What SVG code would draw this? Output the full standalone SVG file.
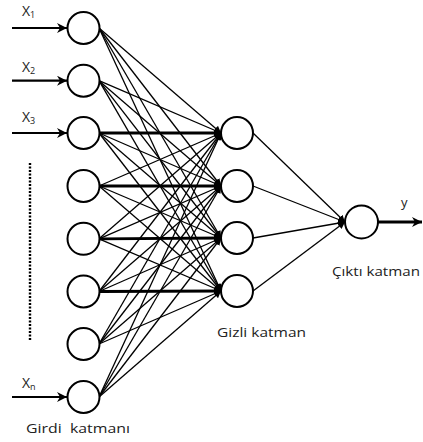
<svg xmlns="http://www.w3.org/2000/svg" width="423" height="442" viewBox="0 0 423 442">
<defs>
<marker id="ah" viewBox="0 0 10 10" refX="10" refY="5" markerWidth="7" markerHeight="7" markerUnits="userSpaceOnUse" orient="auto"><path d="M0,0 L10,5 L0,10 z" fill="#000"/></marker>
<marker id="big" viewBox="0 0 10 10" refX="10" refY="5" markerWidth="10" markerHeight="10" markerUnits="userSpaceOnUse" orient="auto"><path d="M0,0 L10,5 L0,10 L3,5 z" fill="#000"/></marker>
<style>
.n{fill:#fff;stroke:#000;stroke-width:2}
.c{stroke:#000;stroke-width:1.3;fill:none;marker-end:url(#ah)}
.h{stroke-width:2.8}
.in{stroke:#000;stroke-width:2.2;fill:none;marker-end:url(#big)}
.t{font-family:"Open Sans","Liberation Sans",sans-serif;font-size:13px;fill:#222}
.x{font-size:14px}
.s{font-size:9px}
</style>
</defs>
<rect width="423" height="442" fill="#fff"/>
<g id="connectors">
<path class="c" d="M99,28 L221,133"/><path class="c" d="M99,28 L221,186"/><path class="c" d="M99,28 L221,238"/><path class="c" d="M99,28 L221,291"/>
<path class="c" d="M99,80.7 L221,133"/><path class="c" d="M99,80.7 L221,186"/><path class="c" d="M99,80.7 L221,238"/><path class="c" d="M99,80.7 L221,291"/>
<path class="c h" d="M100,133 L221,133"/><path class="c" d="M99,133 L221,186"/><path class="c" d="M99,133 L221,238"/><path class="c" d="M99,133 L221,291"/>
<path class="c" d="M99,186 L221,133"/><path class="c h" d="M100,186 L221,186"/><path class="c" d="M99,186 L221,238"/><path class="c" d="M99,186 L221,291"/>
<path class="c" d="M99,238.8 L221,133"/><path class="c" d="M99,238.8 L221,186"/><path class="c h" d="M100,238.8 L221,238"/><path class="c" d="M99,238.8 L221,291"/>
<path class="c" d="M99,291.5 L221,133"/><path class="c" d="M99,291.5 L221,186"/><path class="c" d="M99,291.5 L221,238"/><path class="c h" d="M100,291.5 L221,291"/>
<path class="c" d="M99,344 L221,133"/><path class="c" d="M99,344 L221,186"/><path class="c" d="M99,344 L221,238"/><path class="c" d="M99,344 L221,291"/>
<path class="c" d="M99,397 L221,133"/><path class="c" d="M99,397 L221,186"/><path class="c" d="M99,397 L221,238"/><path class="c" d="M99,397 L221,291"/>
<path class="c" d="M253,133 L345,222"/><path class="c" d="M253,186 L345,222"/><path class="c" d="M253,238 L345,222"/><path class="c" d="M253,291 L345,222"/>
<path class="in" d="M12,28 L67,28"/><path class="in" d="M12,80.7 L67,80.7"/><path class="in" d="M12,133 L67,133"/><path class="in" d="M12,397 L67,397"/>
<path class="in" d="M378,222 L422,222" style="stroke-width:2.8"/>
<path d="M30,163 L30,340" stroke="#000" stroke-width="2.4" stroke-dasharray="2,1.5"/>
</g>
<g id="in1"><circle class="n" cx="83.5" cy="28" r="16"/></g>
<g id="in2"><circle class="n" cx="83.5" cy="80.7" r="16"/></g>
<g id="in3"><circle class="n" cx="83.5" cy="133" r="16"/></g>
<g id="in4"><circle class="n" cx="83.5" cy="186" r="16"/></g>
<g id="in5"><circle class="n" cx="83.5" cy="238.8" r="16"/></g>
<g id="in6"><circle class="n" cx="83.5" cy="291.5" r="16"/></g>
<g id="in7"><circle class="n" cx="83.5" cy="344" r="16"/></g>
<g id="in8"><circle class="n" cx="83.5" cy="397" r="16"/></g>
<g id="h1"><circle class="n" cx="237" cy="133" r="16"/></g>
<g id="h2"><circle class="n" cx="237" cy="186" r="16"/></g>
<g id="h3"><circle class="n" cx="237" cy="238" r="16"/></g>
<g id="h4"><circle class="n" cx="237" cy="291" r="16"/></g>
<g id="out"><circle class="n" cx="361.5" cy="222" r="16.5"/></g>
<g id="labels">
<text class="t x" x="22" y="16">X<tspan class="s" dy="2">1</tspan></text>
<text class="t x" x="22" y="72">X<tspan class="s" dy="2">2</tspan></text>
<text class="t x" x="22" y="122">X<tspan class="s" dy="2">3</tspan></text>
<text class="t x" x="22" y="388">X<tspan class="s" dy="2">n</tspan></text>
<text class="t" x="401" y="207">y</text>
<text class="t" x="26" y="433" textLength="104" lengthAdjust="spacingAndGlyphs" xml:space="preserve">Girdi  katmanı</text>
<text class="t" x="217" y="337" textLength="89" lengthAdjust="spacingAndGlyphs">Gizli katman</text>
<text class="t" x="332" y="276" textLength="88" lengthAdjust="spacingAndGlyphs">Çıktı katman</text>
</g>
</svg>
